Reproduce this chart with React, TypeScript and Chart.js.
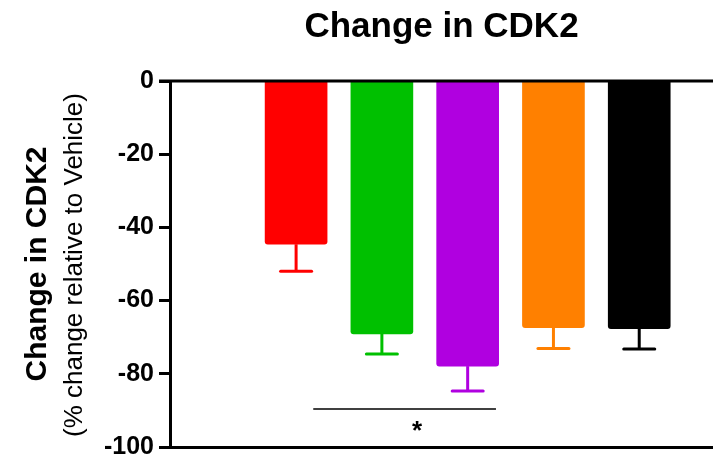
import React, { useEffect, useRef } from "react";
import { Chart, registerables } from "chart.js";

Chart.register(...registerables);

// ---- data ----
const groups = ["Group 1", "Group 2", "Group 3", "Group 4", "Group 5"];
const groupPositions = [1, 2, 3, 4, 5];
const means = [-44.6, -69.1, -77.9, -67.4, -67.7];
const sems = [7.4, 5.5, 6.8, 5.7, 5.5];
const barColors = ["#FF0000", "#00C000", "#B000E0", "#FF8000", "#000000"];
const yTicks = [0, -20, -40, -60, -80, -100];
const titleText = "Change in CDK2";
const yTitleMain = "Change in CDK2";
const yTitleSub = "(% change relative to Vehicle)";
// significance bracket (data units): from group position, to group position, at value
const sigFrom = 1.2;
const sigTo = 3.33;
const sigY = -89.6;
const sigLabel = "*";
const sigLabelX = 2.41;

const FONT = '"Liberation Sans", Arial, Helvetica, sans-serif';

export default function App() {
  const ref = useRef<HTMLCanvasElement | null>(null);

  useEffect(() => {
    document.body.style.margin = "0";
    const canvas = ref.current;
    if (!canvas) return;

    const overlay = {
      id: "overlay",
      afterDatasetsDraw(chart: any) {
        const { ctx, chartArea, scales } = chart;
        const xs = scales.x;
        const ys = scales.y;
        ctx.save();
        // top line at zero
        ctx.strokeStyle = "#000";
        ctx.lineWidth = 3;
        const y0 = ys.getPixelForValue(0);
        ctx.beginPath();
        ctx.moveTo(chartArea.left - 11, y0);
        ctx.lineTo(chartArea.right, y0);
        ctx.stroke();
        // error bars (downward)
        means.forEach((m, i) => {
          const x = xs.getPixelForValue(groupPositions[i]);
          const yb = ys.getPixelForValue(m);
          const ye = ys.getPixelForValue(m - sems[i]);
          ctx.strokeStyle = barColors[i];
          ctx.lineWidth = 3;
          ctx.lineCap = "butt";
          ctx.beginPath();
          ctx.moveTo(x, yb);
          ctx.lineTo(x, ye);
          ctx.stroke();
          ctx.lineCap = "round";
          ctx.beginPath();
          ctx.moveTo(x - 15.5, ye);
          ctx.lineTo(x + 15.5, ye);
          ctx.stroke();
        });
        // significance line
        ctx.lineCap = "butt";
        ctx.strokeStyle = "#000";
        ctx.lineWidth = 1.5;
        const sy = ys.getPixelForValue(sigY);
        ctx.beginPath();
        ctx.moveTo(xs.getPixelForValue(sigFrom), sy);
        ctx.lineTo(xs.getPixelForValue(sigTo), sy);
        ctx.stroke();
        ctx.fillStyle = "#000";
        ctx.font = `bold 26px ${FONT}`;
        ctx.textAlign = "center";
        ctx.textBaseline = "alphabetic";
        ctx.fillText(sigLabel, xs.getPixelForValue(sigLabelX), sy + 30);
        // y-axis titles
        const cy = (chartArea.top + chartArea.bottom) / 2;
        ctx.translate(38, cy);
        ctx.rotate(-Math.PI / 2);
        ctx.textBaseline = "middle";
        ctx.font = `bold 30px ${FONT}`;
        ctx.fillText(yTitleMain, 0, 0);
        ctx.font = `26px ${FONT}`;
        ctx.fillText(yTitleSub, -1, 37);
        ctx.restore();
      },
    };

    const chart = new Chart(canvas, {
      type: "bar",
      data: {
        datasets: [
          {
            label: "CDK2",
            data: groupPositions.map((x, i) => ({ x, y: means[i] })),
            backgroundColor: barColors,
            borderWidth: 0,
            borderRadius: 3,
            borderSkipped: "start",
            barThickness: 62,
          } as any,
        ],
      },
      options: {
        animation: false,
        responsive: false,
        maintainAspectRatio: false,
        layout: { padding: { left: 90, right: 0, top: 0, bottom: 0 } },
        plugins: {
          legend: { display: false },
          tooltip: { enabled: false },
          title: {
            display: true,
            text: titleText,
            fullSize: false,
            color: "#000",
            font: { family: FONT, size: 35, weight: "bold" },
            padding: { top: 6, bottom: 33 },
          },
        },
        scales: {
          x: {
            type: "linear",
            offset: false,
            min: -0.47,
            max: 5.86,
            grid: { display: false, drawTicks: false, offset: false },
            ticks: { display: false },
            border: { display: true, color: "#000", width: 3 },
            afterFit: (s: any) => {
              s.height = 15;
            },
          },
          y: {
            min: -100,
            max: 0,
            afterBuildTicks: (s: any) => {
              s.ticks = yTicks.map((v) => ({ value: v }));
            },
            afterFit: (s: any) => {
              s.width = 80;
              s.paddingTop = 0;
              s.paddingBottom = 0;
            },
            grid: {
              drawOnChartArea: false,
              drawTicks: true,
              tickLength: 11,
              tickWidth: 3,
              color: "#000",
            },
            border: { display: true, color: "#000", width: 3 },
            ticks: {
              color: "#000",
              padding: 5,
              font: { family: FONT, size: 25, weight: "bold" },
            },
          },
        },
      },
      plugins: [overlay],
    });
    return () => chart.destroy();
  }, []);

  return (
    <div style={{ width: 713, height: 462 }}>
      <canvas ref={ref} width={713} height={462} style={{ display: "block" }} />
    </div>
  );
}
